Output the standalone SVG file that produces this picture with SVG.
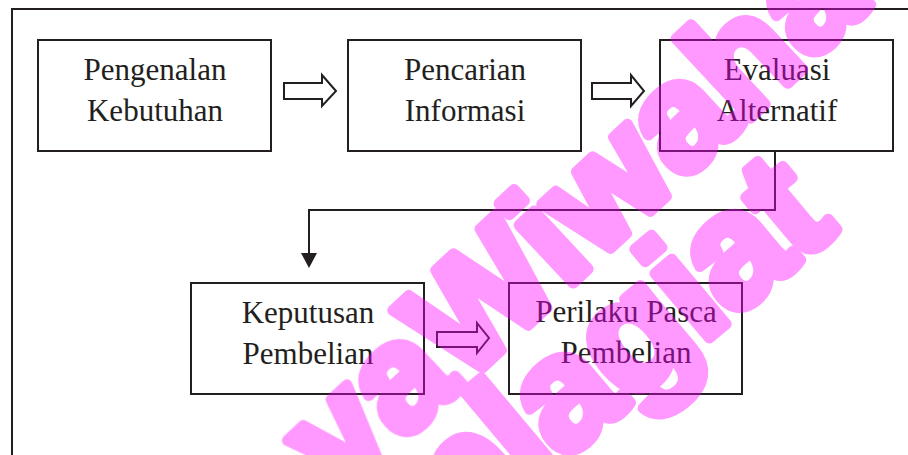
<svg xmlns="http://www.w3.org/2000/svg" width="908" height="455" viewBox="0 0 908 455">
<style>
.box{fill:#fff;stroke:#231f20;stroke-width:2}
.lbl{font-family:"Liberation Serif","Times New Roman",serif;font-size:31px;fill:#231f20;text-anchor:middle}
.hollow{fill:#fff;stroke:#231f20;stroke-width:2;stroke-linejoin:miter}
.conn{fill:none;stroke:#231f20;stroke-width:2}
.wm{font-family:"Liberation Sans",Arial,sans-serif;font-weight:bold;font-size:150px;fill:#ff00ff;stroke:#ff00ff;stroke-width:11;stroke-linejoin:round}
</style>
<rect width="908" height="455" fill="#fff"/>
<path d="M12 455 V9 H908" fill="none" stroke="#231f20" stroke-width="2"/>
<g id="node1"><rect class="box" x="38" y="40" width="233" height="111"/><text class="lbl" x="155" y="80">Pengenalan</text><text class="lbl" x="155" y="121">Kebutuhan</text></g>
<g id="node2"><rect class="box" x="348" y="40" width="233" height="111"/><text class="lbl" x="465" y="80">Pencarian</text><text class="lbl" x="465" y="121">Informasi</text></g>
<g id="node3"><rect class="box" x="660" y="40" width="233" height="111"/><text class="lbl" x="777" y="80">Evaluasi</text><text class="lbl" x="777" y="121">Alternatif</text></g>
<g id="node4"><rect class="box" x="191" y="283" width="233" height="111"/><text class="lbl" x="308" y="323">Keputusan</text><text class="lbl" x="308" y="364">Pembelian</text></g>
<g id="node5"><rect class="box" x="509" y="283" width="233" height="111"/><text class="lbl" x="626" y="322">Perilaku Pasca</text><text class="lbl" x="626" y="363">Pembelian</text></g>
<g id="connectors">
<polygon class="hollow" points="284,83 322,83 322,75 336,91 322,106 322,99 284,99"/>
<polygon class="hollow" points="592,83 631,83 631,75 644,91 631,106 631,99 592,99"/>
<polygon class="hollow" points="437,332 477,332 477,323 489,338 477,353 477,347 437,347"/>
<path class="conn" d="M775 151 V210 H309 V254"/>
<polygon points="301,253 317,253 309,268" fill="#231f20"/>
</g>
<g id="watermark" opacity="0.4">
<text class="wm" transform="translate(463,386) rotate(-43)" text-anchor="end">ya </text>
<text class="wm" transform="translate(463,386) rotate(-43)">Wiwaha</text>
<text class="wm" transform="translate(458,549) rotate(-40)" style="font-size:160px;letter-spacing:-3px">plagiat</text>
</g>
</svg>
